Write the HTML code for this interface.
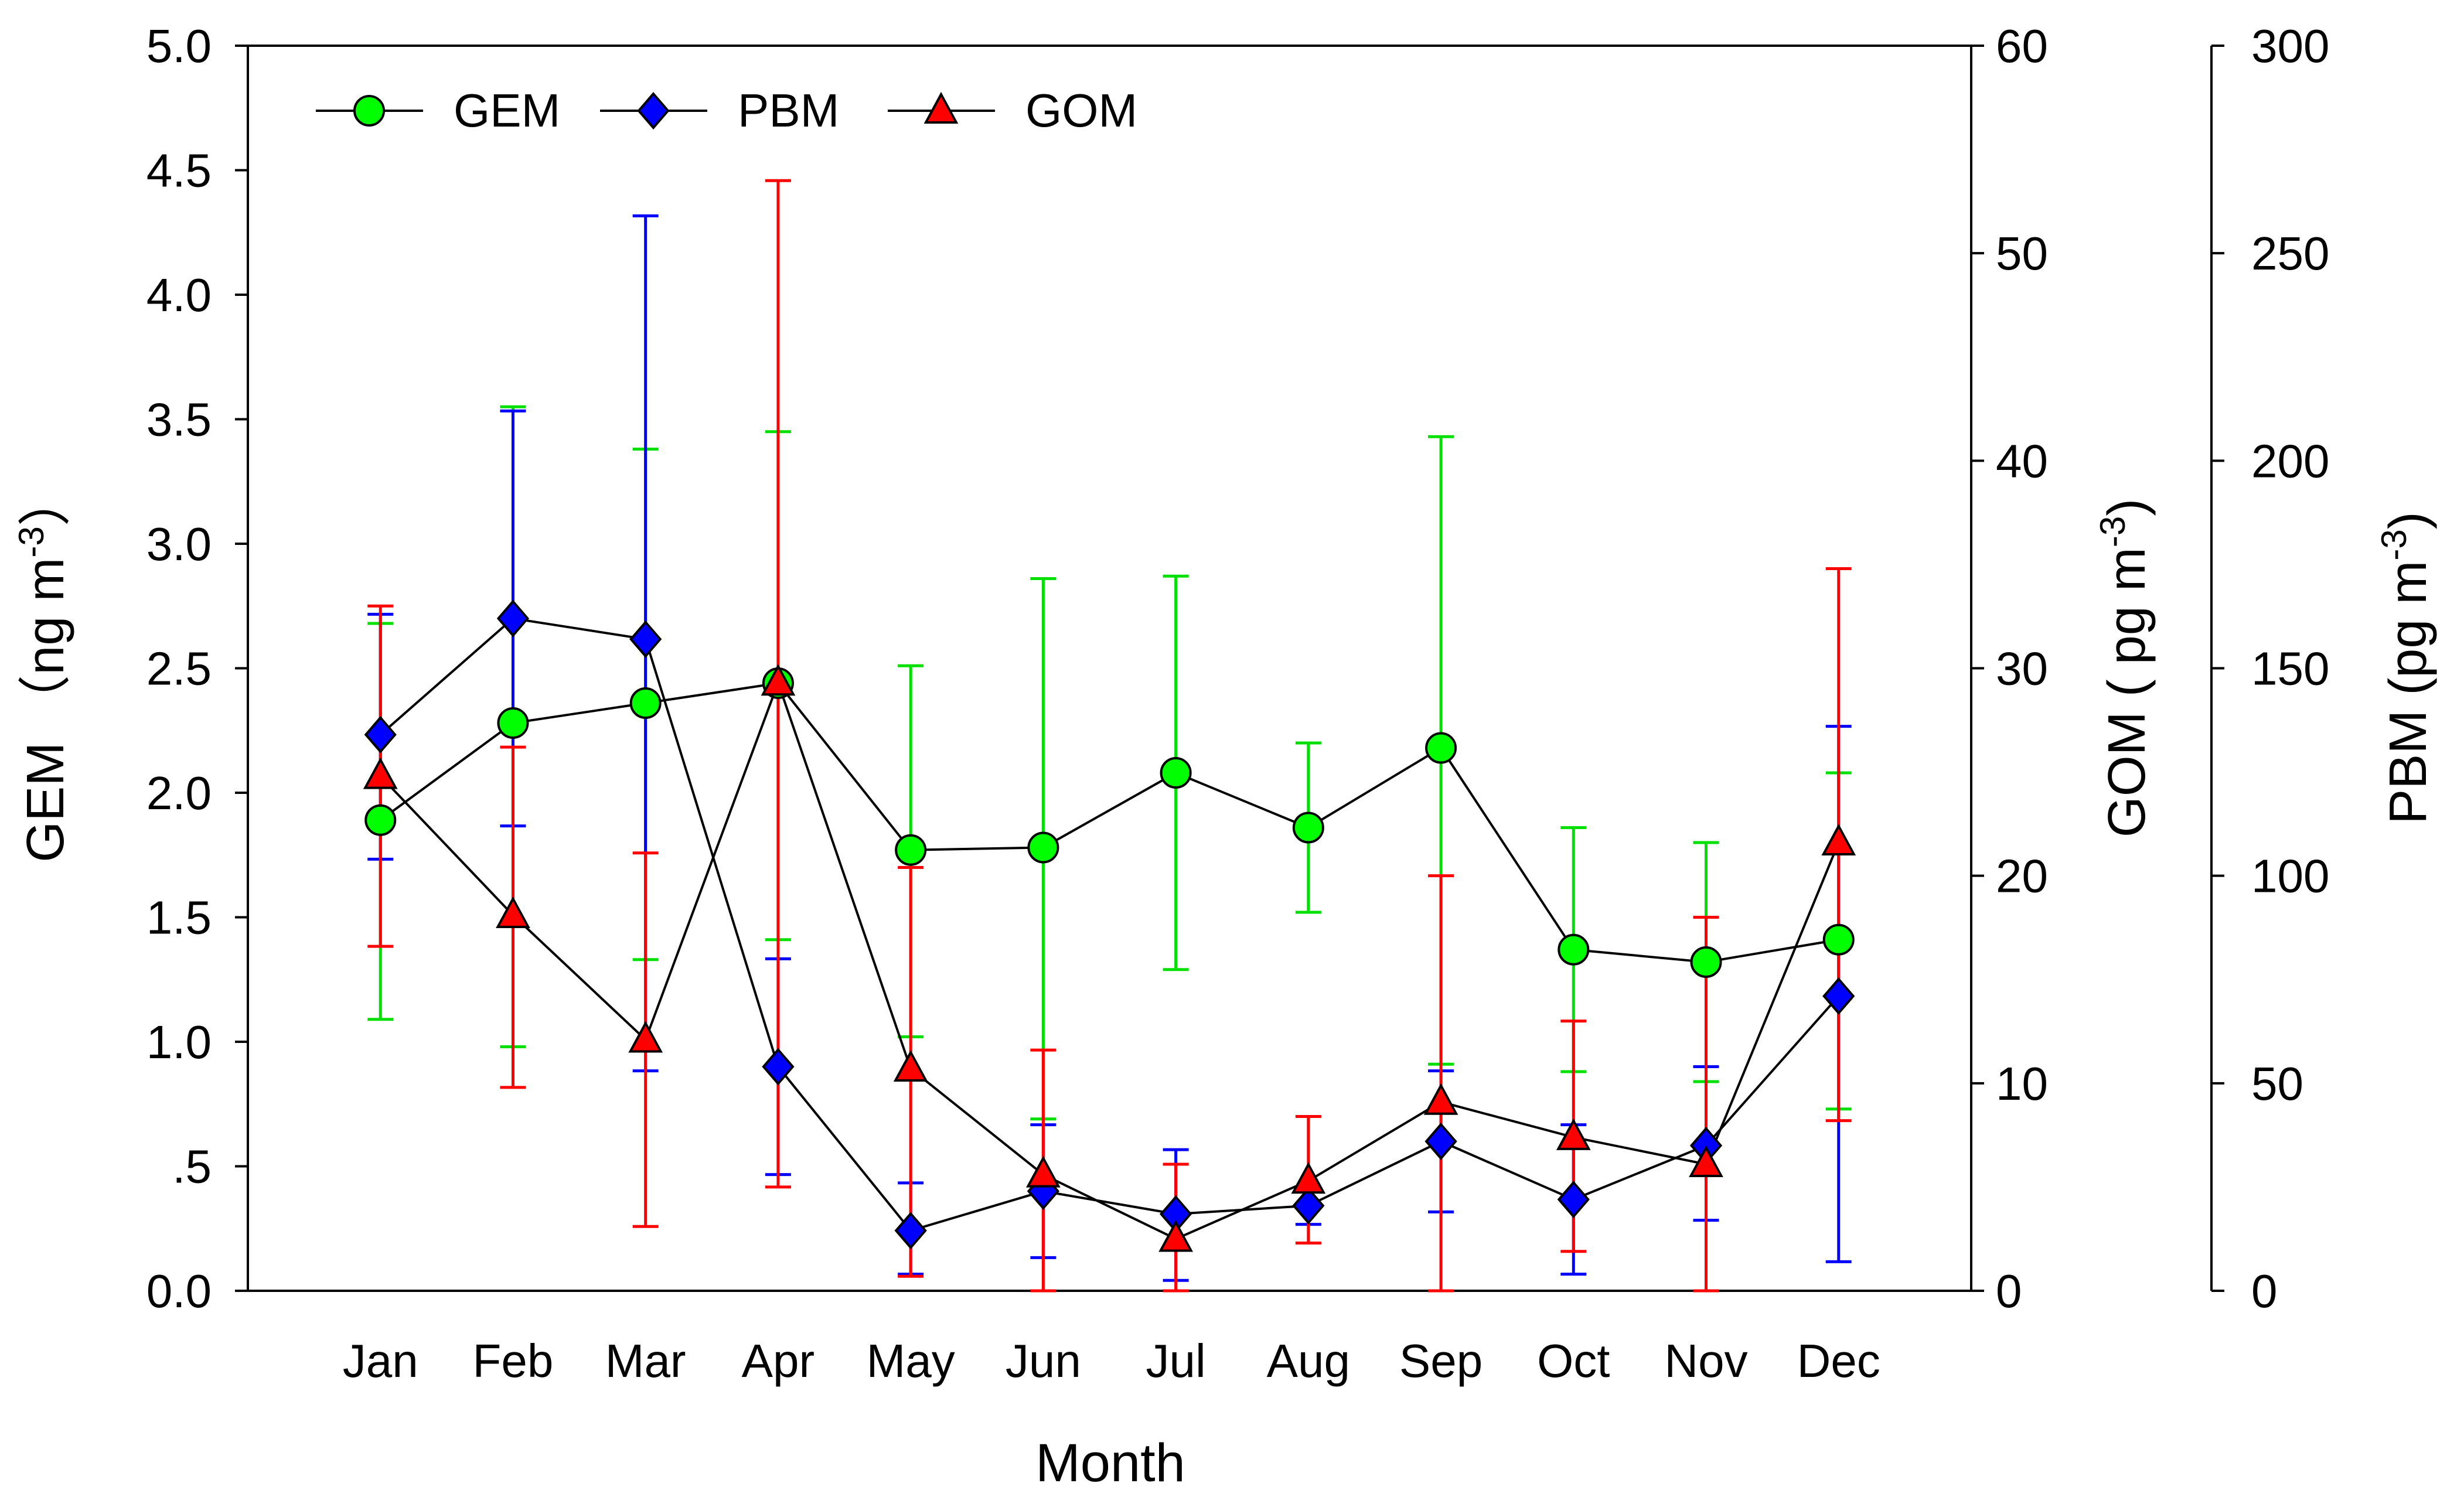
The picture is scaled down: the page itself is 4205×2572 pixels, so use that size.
<!DOCTYPE html>
<html><head><meta charset="utf-8"><style>
html,body{margin:0;padding:0;background:#fff;}
svg{display:block;font-family:"Liberation Sans","Noto Sans CJK SC",sans-serif;}
</style></head><body>
<svg id="chart" width="4205" height="2572" viewBox="0 0 4205 2572" xmlns="http://www.w3.org/2000/svg">
<rect x="0" y="0" width="4205" height="2572" fill="#fff"/>
<g id="axes"></g>
<g id="errs"></g>
<g id="lines"></g>
<g id="marks"></g>
<text x="108" y="1140" font-size="90" text-anchor="middle" transform="rotate(-90 108 1140)">GEM （ng m<tspan dy="-34" font-size="60">-3</tspan><tspan dy="34">）</tspan></text>
<text x="3660" y="1140" font-size="90" text-anchor="middle" transform="rotate(-90 3660 1140)">GOM ( pg m<tspan dy="-34" font-size="60">-3</tspan><tspan dy="34">)</tspan></text>
<text x="4140" y="1140" font-size="90" text-anchor="middle" transform="rotate(-90 4140 1140)">PBM (pg m<tspan dy="-34" font-size="60">-3</tspan><tspan dy="34">)</tspan></text>
<text x="1895" y="2528" font-size="92" text-anchor="middle">Month</text>
<g id="legend"></g>
</svg>
<script>
const months=["Jan","Feb","Mar","Apr","May","Jun","Jul","Aug","Sep","Oct","Nov","Dec"];
const gem=[1.89,2.28,2.36,2.44,1.77,1.78,2.08,1.86,2.18,1.37,1.32,1.41];
const gemHi=[2.68,3.55,3.38,3.45,2.51,2.86,2.87,2.20,3.43,1.86,1.80,2.08];
const gemLo=[1.09,0.98,1.33,1.41,1.02,0.69,1.29,1.52,0.91,0.88,0.84,0.73];
const pbm=[134,162,157,54,14.5,24,18.5,20.5,36,22,35,71];
const pbmHi=[163,212,259,80,26,40,34,25,53,40,54,136];
const pbmLo=[104,112,53,28,4,8,2.5,16,19,4,17,7];
const gom=[24.8,18.1,12.1,29.3,10.7,5.6,2.5,5.3,9.1,7.4,6.1,21.6];
const gomHi=[33,26.2,21.1,53.5,20.4,11.6,6.1,8.4,20,13,18,34.8];
const gomLo=[16.6,9.8,3.1,5,0.7,0,0,2.3,0,1.9,0,8.2];
const gemTicks=["0.0",".5","1.0","1.5","2.0","2.5","3.0","3.5","4.0","4.5","5.0"];
const gomTicks=[0,10,20,30,40,50,60];
const pbmTicks=[0,50,100,150,200,250,300];

const NS="http://www.w3.org/2000/svg";
const L=423,R=3364,T=78,B=2203,PX=3774;
const xs=i=>L+(i+1)*(R-L)/13;
const yGem=v=>B-v/5*(B-T);
const yGom=v=>B-v/60*(B-T);
const yPbm=v=>B-v/300*(B-T);
function el(tag,attrs,parent,txt){const e=document.createElementNS(NS,tag);for(const k in attrs)e.setAttribute(k,attrs[k]);if(txt!==undefined)e.textContent=txt;parent.appendChild(e);return e;}
const ax=document.getElementById('axes');
let e;
e=el('rect',{x:L,y:T,width:R-L,height:B-T,fill:'none',stroke:'#000','stroke-width':4},ax);


e=el('line',{x1:PX,y1:T,x2:PX,y2:B,stroke:'#000','stroke-width':4},ax);


gemTicks.forEach((t,i)=>{const y=yGem(i*0.5);
 el('line',{x1:L-22,y1:y,x2:L,y2:y,stroke:'#000','stroke-width':4},ax);
 e=el('text',{x:L-62,y:y+28,'font-size':80,'text-anchor':'end'},ax,t);
 
 });
gomTicks.forEach(t=>{const y=yGom(t);
 el('line',{x1:R,y1:y,x2:R+22,y2:y,stroke:'#000','stroke-width':4},ax);
 e=el('text',{x:R+42,y:y+28,'font-size':80},ax,String(t));
 
 });
pbmTicks.forEach(t=>{const y=yPbm(t);
 el('line',{x1:PX,y1:y,x2:PX+22,y2:y,stroke:'#000','stroke-width':4},ax);
 e=el('text',{x:PX+68,y:y+28,'font-size':80},ax,String(t));
 
 });
months.forEach((m,i)=>{
 e=el('text',{x:xs(i),y:2350,'font-size':80,'text-anchor':'middle'},ax,m);
 
 });
const er=document.getElementById('errs');
function errBars(hi,lo,f,col,name){hi.forEach((h,i)=>{const x=xs(i),y1=f(h),y2=f(lo[i]);
 const g=el('g',{stroke:col,'stroke-width':5},er);
 
 
 el('line',{x1:x,y1:y1,x2:x,y2:y2},g);
 el('line',{x1:x-22,y1:y1,x2:x+22,y2:y1},g);
 el('line',{x1:x-22,y1:y2,x2:x+22,y2:y2},g);});}
errBars(gemHi,gemLo,yGem,'#00e000','gem-error-bar');
errBars(pbmHi,pbmLo,yPbm,'#0000ff','pbm-error-bar');
errBars(gomHi,gomLo,yGom,'#ff0000','gom-error-bar');
const ln=document.getElementById('lines');
function line(v,f,name){e=el('polyline',{points:v.map((d,i)=>xs(i)+','+f(d)).join(' '),fill:'none',stroke:'#000','stroke-width':4},ln);
 
 }
line(gem,yGem,'gem-line');line(pbm,yPbm,'pbm-line');line(gom,yGom,'gom-line');
const mk=document.getElementById('marks');
function circle(x,y,p){return el('circle',{cx:x,cy:y,r:25,fill:'#00ff00',stroke:'#000','stroke-width':4},p);}
function diamond(x,y,p){return el('polygon',{points:`${x},${y-29} ${x+25},${y} ${x},${y+29} ${x-25},${y}`,fill:'#0000ff',stroke:'#000','stroke-width':4},p);}
function tri(x,y,p){return el('polygon',{points:`${x},${y-28} ${x+26},${y+20} ${x-26},${y+20}`,fill:'#ff0000',stroke:'#000','stroke-width':4},p);}
gem.forEach((v,i)=>{e=circle(xs(i),yGem(v),mk);
 
 });
pbm.forEach((v,i)=>{e=diamond(xs(i),yPbm(v),mk);
 
 });
gom.forEach((v,i)=>{e=tri(xs(i),yGom(v),mk);
 
 });
const lg=document.getElementById('legend');
[["GEM",539,circle],["PBM",1024,diamond],["GOM",1515,tri]].forEach(([n,x0,fn])=>{
 const g=el('g',{},lg);
 
 
 el('line',{x1:x0,y1:189,x2:x0+183,y2:189,stroke:'#000','stroke-width':4},g);
 fn(x0+91,189,g);
 el('text',{x:x0+235,y:216,'font-size':80},g,n);});
</script>
</body></html>
